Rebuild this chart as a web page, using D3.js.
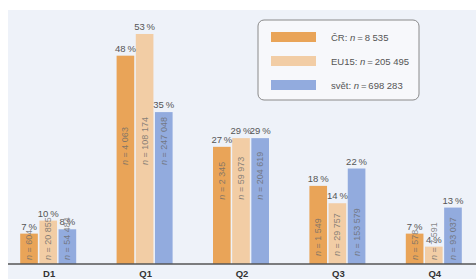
<!DOCTYPE html>
<html>
<head>
<meta charset="utf-8">
<script src="https://cdn.jsdelivr.net/npm/d3@7"></script>
<style>
  body { margin: 0; background: #fff; }
  svg { display: block; font-family: "Liberation Sans", Arial, sans-serif; }
</style>
</head>
<body>
<svg id="chart" width="476" height="279"></svg>
<script>
// data
const categories = ['D1', 'Q1', 'Q2', 'Q3', 'Q4']
const seriesNames = ['ČR', 'EU15', 'svět']
const seriesTotals = ['8 535', '205 495', '698 283']
const pctCR = [7, 48, 27, 18, 7]
const pctEU15 = [10, 53, 29, 14, 4]
const pctWorld = [8, 35, 29, 22, 13]
const nCR = ['604', '4 063', '2 345', '1 549', '578']
const nEU15 = ['20 855', '108 174', '59 973', '29 757', '7 591']
const nWorld = ['54 484', '247 048', '204 619', '153 579', '93 037']

const colors = ['#e9a458', '#f2cda5', '#92abde']

const svg = d3.select('#chart')
const W = 476, H = 279
const baseY = 264

// background panel
svg.append('rect')
  .attr('x', 8).attr('y', 10)
  .attr('width', W - 8).attr('height', H - 10)
  .attr('fill', '#eef2f9')

const x0 = d3.scaleBand()
  .domain(categories)
  .range([0, 482])
  .padding(0)

const x1 = d3.scaleBand()
  .domain(seriesNames)
  .range([0, 56])
  .paddingInner(0.08)

const y = d3.scaleLinear()
  .domain([0, 55])
  .range([baseY, baseY - 4.34 * 55])

const pcts = [pctCR, pctEU15, pctWorld]
const ns = [nCR, nEU15, nWorld]

const groups = svg.append('g')
  .selectAll('g')
  .data(categories)
  .enter()
  .append('g')
  .attr('transform', d => `translate(${x0(d) + x0.bandwidth() / 2 - 28},0)`)

groups.each(function (cat, ci) {
  const g = d3.select(this)
  const rows = seriesNames.map((s, si) => ({ s, si, v: pcts[si][ci], n: ns[si][ci] }))

  g.selectAll('rect')
    .data(rows)
    .enter()
    .append('rect')
    .attr('x', d => x1(d.s))
    .attr('width', x1.bandwidth())
    .attr('y', d => y(d.v))
    .attr('height', d => baseY - y(d.v))
    .attr('fill', d => colors[d.si])

  // percent labels
  g.selectAll('text.pct')
    .data(rows)
    .enter()
    .append('text')
    .attr('class', 'pct')
    .attr('x', d => x1(d.s) + x1.bandwidth() / 2)
    .attr('y', d => y(d.v) - 4)
    .attr('text-anchor', 'middle')
    .attr('font-size', '9.5px')
    .attr('fill', '#555')
    .text(d => d.v + '\u2009%')

  // n labels, rotated inside bars
  const nt = g.selectAll('text.n')
    .data(rows)
    .enter()
    .append('text')
    .attr('class', 'n')
    .attr('font-size', '9px')
    .attr('fill', '#6a6a6a')
    .attr('fill-opacity', 0.8)
  nt.append('tspan').attr('font-style', 'italic').text('n')
  nt.append('tspan').text(d => ' = ' + d.n)

  let maxLen = 0
  nt.each(function () { maxLen = Math.max(maxLen, this.getComputedTextLength()) })
  const minTop = d3.max(rows, d => y(d.v))
  const startY = Math.min(baseY - 4, minTop + 5 + maxLen)

  nt.attr('transform', d => `translate(${x1(d.s) + x1.bandwidth() / 2 + 3},${startY}) rotate(-90)`)
})

// axis line
svg.append('line')
  .attr('x1', 8).attr('x2', W)
  .attr('y1', baseY).attr('y2', baseY)
  .attr('stroke', '#555')
  .attr('stroke-width', 1.5)

// category labels
svg.append('g')
  .selectAll('text')
  .data(categories)
  .enter()
  .append('text')
  .attr('x', d => x0(d) + x0.bandwidth() / 2 + 1)
  .attr('y', 277)
  .attr('text-anchor', 'middle')
  .attr('font-size', '9.5px')
  .attr('font-weight', 'bold')
  .attr('fill', '#333')
  .text(d => d)

// legend
const legend = svg.append('g').attr('transform', 'translate(258,20)')
legend.append('rect')
  .attr('width', 161).attr('height', 80)
  .attr('rx', 6).attr('ry', 6)
  .attr('fill', '#f7f8fb')
  .attr('stroke', '#8a8a8a')
  .attr('stroke-width', 1)

const li = legend.selectAll('g.item')
  .data(seriesNames)
  .enter()
  .append('g')
  .attr('class', 'item')
  .attr('transform', (d, i) => `translate(0,${17 + i * 24})`)

li.append('rect')
  .attr('x', 13).attr('y', -5)
  .attr('width', 45).attr('height', 10)
  .attr('fill', (d, i) => colors[i])

const lt = li.append('text')
  .attr('x', 73).attr('y', 4)
  .attr('font-size', '9.5px')
  .attr('fill', '#555')
lt.append('tspan').text(d => d + ': ')
lt.append('tspan').attr('font-style', 'italic').text('n')
lt.append('tspan').text((d, i) => '\u2009=\u2009' + seriesTotals[i])
</script>
</body>
</html>
